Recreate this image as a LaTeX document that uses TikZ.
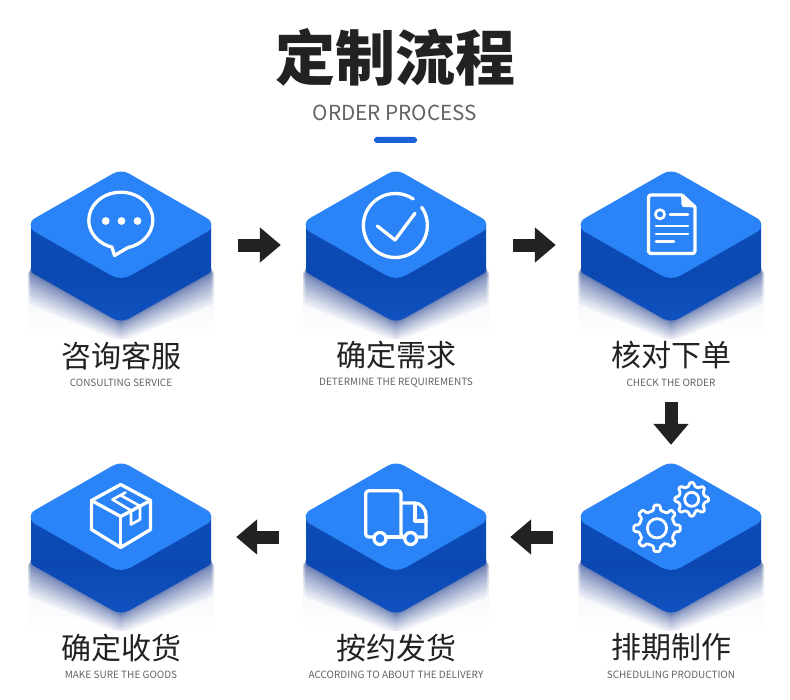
\documentclass[tikz,border=0pt]{standalone}
\usepackage{fontspec}
\setmainfont{Noto Sans CJK SC}
\usetikzlibrary{arrows.meta}
\definecolor{facec}{HTML}{2A84F7}
\definecolor{sideA}{HTML}{0D4CB8}
\definecolor{sideB}{HTML}{0B48B2}
\definecolor{sideC}{HTML}{1052C0}
\definecolor{shadowc}{HTML}{1C3C90}
\definecolor{inkc}{HTML}{222222}
\definecolor{subc}{HTML}{636363}
\definecolor{barc}{HTML}{1A62D8}
\definecolor{haze}{HTML}{F1F3F9}
\tikzset{
  x=1bp,y=-1bp,
  icon/.style={draw=white,line width=3.3bp,line cap=round,line join=round},
  thin icon/.style={draw=white,line width=2.6bp,line cap=round,line join=round},
  cnlabel/.style={text=inkc,font=\fontsize{30bp}{31bp}\selectfont,inner sep=0pt},
  enlabel/.style={text=subc,font=\fontsize{10bp}{11bp}\selectfont,inner sep=0pt},
  blockanchor/.style={minimum width=180bp,minimum height=150bp,inner sep=0pt},
  flowarrow/.style={draw=inkc,line width=13bp,-{Triangle[length=21bp,width=34bp]}},
}
\newcommand{\blockbody}{%
  % soft shadow below the block
  \shade[top color=haze,bottom color=white] (-93,100) rectangle (93,167);
  \begin{scope}
    \clip (-94,90) rectangle (94,167);
    \foreach \k in {1,...,24}{
      \pgfmathsetmacro{\sh}{32*(\k/24)^1.7}
      \pgfmathsetmacro{\tipy}{152+0.6*\sh}
      \pgfmathsetmacro{\sidey}{102+\sh}
      \pgfmathsetmacro{\hw}{90.3+mod(\k,4)*0.9}
      \fill[shadowc,fill opacity=0.037]
        (-90,97) -- (-\hw,103) -- (-\hw,\sidey) -- (0,\tipy) -- (\hw,\sidey) -- (\hw,103) -- (90,97) -- cycle;
    }
  \end{scope}
  % side faces
  \shade[top color=sideA,bottom color=sideC,middle color=sideB]
    (-90,54) -- (-90,99) .. controls (-90,101) and (-89,102) .. (-87,103)
    -- (-9,147) .. controls (-3,150.5) and (3,150.5) .. (9,147)
    -- (87,103) .. controls (89,102) and (90,101) .. (90,99) -- (90,54) -- cycle;
  % top face
  \fill[facec]
    (-8,2.6) .. controls (-3,-0.2) and (3,-0.2) .. (8,2.6)
    -- (85.8,47) .. controls (92,50.5) and (92,57.5) .. (85.8,61)
    -- (10,104.3) .. controls (4,107.7) and (-4,107.7) .. (-10,104.3)
    -- (-85.8,61) .. controls (-92,57.5) and (-92,50.5) .. (-85.8,47) -- cycle;
}
\newcommand{\gearpath}[4]{% cx cy outer root
  \draw[icon,line width=2.8bp,rounded corners=1.4bp]
    ({#1+#4*cos(-22.5+90)},{#2+#4*sin(-22.5+90)})
    \foreach \i in {0,45,...,315}{
      -- ({#1+#4*cos(\i-11+90)},{#2+#4*sin(\i-11+90)})
      -- ({#1+#3*cos(\i-8+90)},{#2+#3*sin(\i-8+90)})
      -- ({#1+#3*cos(\i+8+90)},{#2+#3*sin(\i+8+90)})
      -- ({#1+#4*cos(\i+11+90)},{#2+#4*sin(\i+11+90)})
      -- ({#1+#4*cos(\i+22.5+90)},{#2+#4*sin(\i+22.5+90)})
    } -- cycle;
}
\begin{document}
\begin{tikzpicture}
\useasboundingbox (0,0) rectangle (790,700);
\fill[white] (0,0) rectangle (790,700);

% title
\node[text=inkc,inner sep=0pt,font=\fontsize{60bp}{61bp}\selectfont\bfseries] (title) at (395,57) {定制流程};
\node[text=subc,inner sep=0pt,font=\fontsize{20.7bp}{22bp}\selectfont] (subtitle) at (395,112.5) {ORDER PROCESS};
\fill[barc,rounded corners=2.8bp] (374,137) rectangle (417,143);

% blocks
\foreach \cx/\ty in {121/171,396/171,671/171,121/463,396/463,671/463}{
  \begin{scope}[shift={(\cx,\ty)}]
    \blockbody
  \end{scope}
}

% anchors for the arrows
\node[blockanchor] (b1) at (121,245) {};
\node[blockanchor] (b2) at (396,245) {};
\node[blockanchor] (b3) at (671,245) {};
\node[blockanchor] (b4) at (671,537) {};
\node[blockanchor] (b5) at (396,537) {};
\node[blockanchor] (b6) at (121,537) {};

\draw[flowarrow,shorten <=27bp,shorten >=25bp] (b1.east) -- (b2.west);
\draw[flowarrow,shorten <=27bp,shorten >=25bp] (b2.east) -- (b3.west);
\draw[flowarrow,shorten <=82bp,shorten >=17bp] (b3.south) -- (b4.north);
\draw[flowarrow,shorten <=28bp,shorten >=24bp] (b4.west) -- (b5.east);
\draw[flowarrow,shorten <=27bp,shorten >=25bp] (b5.west) -- (b6.east);

% labels
\node[cnlabel] (c1) at (121.5,356.5) {咨询客服};
\node[enlabel] (e1) at (121,382.5) {CONSULTING SERVICE};
\node[cnlabel] (c2) at (396.5,355.5) {确定需求};
\node[enlabel] (e2) at (396,382.5) {DETERMINE THE REQUIREMENTS};
\node[cnlabel] (c3) at (671.5,355.5) {核对下单};
\node[enlabel] (e3) at (671,382.5) {CHECK THE ORDER};
\node[cnlabel] (c4) at (671.5,647.5) {排期制作};
\node[enlabel] (e4) at (671,674.5) {SCHEDULING PRODUCTION};
\node[cnlabel] (c5) at (396.5,648) {按约发货};
\node[enlabel] (e5) at (396,674.5) {ACCORDING TO ABOUT THE DELIVERY};
\node[cnlabel] (c6) at (121.5,648) {确定收货};
\node[enlabel] (e6) at (121,675) {MAKE SURE THE GOODS};

% icon: chat bubble
\draw[icon] (128,247.5) arc[start angle=77,end angle=-254,x radius=32,y radius=28] -- (114.5,255.5) -- cycle;
\foreach \dx in {105.7,121.5,137.5}{ \fill[white] (\dx,221) circle[radius=3.9]; }

% icon: check
\draw[icon] (421.7,207.3) arc[start angle=-34.6,end angle=304,radius=32];
\draw[icon] (377.3,226) -- (395,240) -- (415,213.3);

% icon: document
\draw[icon,rounded corners=2.5bp] (682,195) -- (648.5,195) -- (648.5,253.5) -- (695,253.5) -- (695,207);
\draw[icon] (682,195) -- (695,207);
\fill[white] (681,194.5) -- (695.5,207.5) -- (684,207) .. controls (682,207) and (681.5,206) .. (681.5,204) -- cycle;
\draw[thin icon] (660,214.3) circle[radius=4.6];
\draw[thin icon] (670,214.3) -- (688,214.3);
\draw[thin icon] (656,226) -- (688,226);
\draw[thin icon] (656,234) -- (688,234);
\draw[thin icon] (656,241.7) -- (674,241.7);

% icon: gears
\gearpath{657}{528.3}{23.4}{18}
\draw[icon,line width=2.8bp] (657,528.3) circle[radius=9.6];
\gearpath{691.7}{499.3}{17}{13.2}
\draw[icon,line width=2.8bp] (691.7,499.3) circle[radius=7];

% icon: truck
\draw[icon,rounded corners=3bp] (372.5,537) -- (365.7,537) -- (365.7,490.8) -- (401,490.8) -- (401,537) -- (402,537);
\draw[icon] (387,537) -- (403.5,537);
\draw[icon] (401,503) -- (414.5,503) .. controls (421,503) and (426,509) .. (426,516) -- (426,537) -- (418,537);
\draw[icon] (415,503) -- (415,521) -- (426,521);
\draw[icon] (380,538.5) circle[radius=6];
\draw[icon] (410.7,538.5) circle[radius=6];

% icon: parcel
\draw[icon] (120.7,484.5) -- (150.5,500.5) -- (150.5,529.5) -- (120.7,547.5) -- (91.5,529.5) -- (91.5,500.5) -- cycle;
\draw[icon] (91.5,500.5) -- (120.7,516.5) -- (150.5,500.5);
\draw[icon] (120.7,516.5) -- (120.7,547.5);
\draw[thin icon] (125.5,492.5) -- (112.5,499.5) -- (131,510.5) -- (131,524.5) -- (140,519.5) -- (140,506) -- (121,495.5);
\end{tikzpicture}
\end{document}
